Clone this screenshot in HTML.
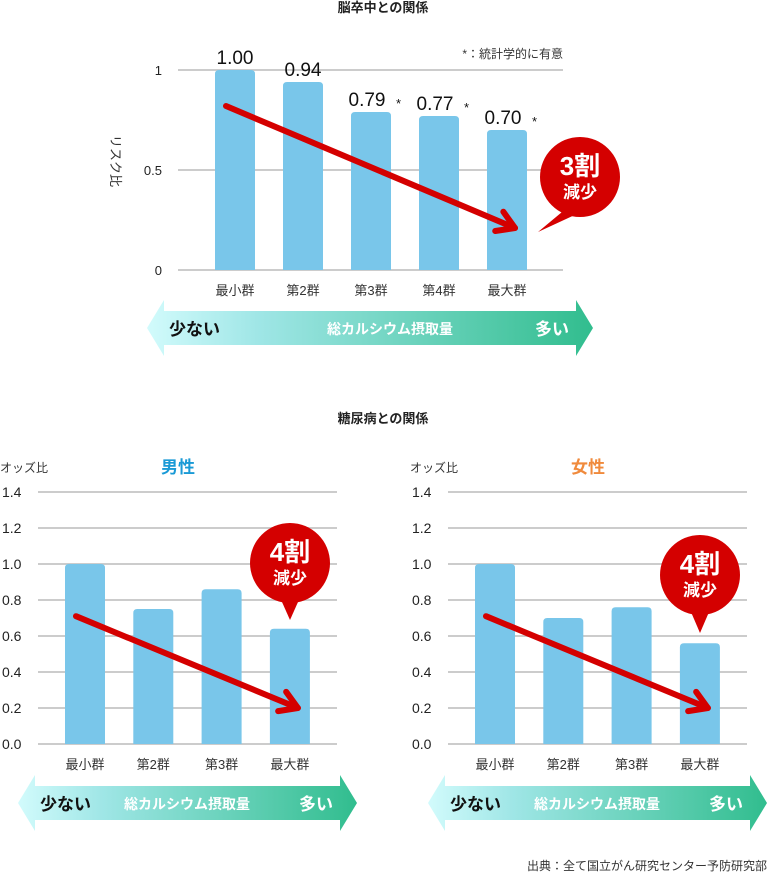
<!DOCTYPE html>
<html><head><meta charset="utf-8"><style>
html,body{margin:0;padding:0;background:#fff;width:767px;height:874px;overflow:hidden}
svg text{font-family:"Liberation Sans","Noto Sans CJK JP",sans-serif}
</style></head><body>
<svg id="s" width="767" height="874" xmlns="http://www.w3.org/2000/svg">
<defs>
<linearGradient id="g" x1="0" x2="1" y1="0" y2="0"><stop offset="0" stop-color="#d2fbfc"/><stop offset="0.25" stop-color="#9fe6e6"/><stop offset="1" stop-color="#31bd8e"/></linearGradient>
</defs>
<text x="383" y="12" text-anchor="middle" font-size="13" font-weight="bold" fill="#222">脳卒中との関係</text>
<text x="563" y="58" text-anchor="end" font-size="12" fill="#333">*：統計学的に有意</text>
<text x="383" y="423" text-anchor="middle" font-size="13" font-weight="bold" fill="#222">糖尿病との関係</text>
<text x="767" y="870" text-anchor="end" font-size="12" fill="#333">出典：全て国立がん研究センター予防研究部</text>
</svg>
<script>
const strokeCats=["最小群","第2群","第3群","第4群","最大群"];
const strokeVals=[1.00,0.94,0.79,0.77,0.70];
const strokeLabels=["1.00","0.94","0.79","0.77","0.70"];
const strokeSig=[false,false,true,true,true];
const strokeTicks=[0,0.5,1];
const strokeTickLabels=["0","0.5","1"];
const dmCats=["最小群","第2群","第3群","最大群"];
const maleVals=[1.0,0.75,0.86,0.64];
const femaleVals=[1.0,0.70,0.76,0.56];
const dmTicks=[0,0.2,0.4,0.6,0.8,1.0,1.2,1.4];
const dmTickLabels=["0.0","0.2","0.4","0.6","0.8","1.0","1.2","1.4"];

const S=document.getElementById('s');
function el(t,a,txt){const e=document.createElementNS('http://www.w3.org/2000/svg',t);for(const k in a)e.setAttribute(k,a[k]);if(txt!=null)e.textContent=txt;S.appendChild(e);return e;}

function gradArrow(x0,x1,y,tag){
  const h=28,w=17,b=17;
  const g=el('polygon',{points:`${x0},${y} ${x0+w},${y-h} ${x0+w},${y-b} ${x1-w},${y-b} ${x1-w},${y-h} ${x1},${y} ${x1-w},${y+h} ${x1-w},${y+b} ${x0+w},${y+b} ${x0+w},${y+h}`,fill:'url(#g)'});
  
  
}
function bubble(cx,cy,r,tx,ty,big,tag){
  const p=el('polygon',{points:`${cx-12},${cy+r-10} ${cx+12},${cy+r-10} ${tx},${ty}`,fill:'#d40000'});
  
  
  const c=el('circle',{cx:cx,cy:cy,r:r,fill:'#d40000'});
  
  
  const t1=el('text',{x:cx,y:cy-2,'text-anchor':'middle','font-size':26,'font-weight':'bold',fill:'#fff'},big);
  
  
  const t2=el('text',{x:cx,y:cy+21,'text-anchor':'middle','font-size':17,'font-weight':'bold',fill:'#fff'},'減少');
  
  
}
function redArrow(x1,y1,x2,y2,tag){
  const ang=Math.atan2(y2-y1,x2-x1);
  const l=el('line',{x1:x1,y1:y1,x2:x2,y2:y2,stroke:'#d40000','stroke-width':6,'stroke-linecap':'round'});
  
  
  const L=20;
  const pts=[[x2-L*Math.cos(ang-0.55),y2-L*Math.sin(ang-0.55)],[x2,y2],[x2-L*Math.cos(ang+0.55),y2-L*Math.sin(ang+0.55)]];
  const h=el('polyline',{points:pts.map(p=>p.join(',')).join(' '),fill:'none',stroke:'#d40000','stroke-width':6,'stroke-linecap':'round','stroke-linejoin':'round'});
  
  
}
function chart(o){
  const y=v=>o.y0-(v/o.vmax)*(o.y0-o.y1);
  o.ticks.forEach((t,i)=>{
    const g=el('line',{x1:o.gx0,x2:o.gx1,y1:y(t),y2:y(t),stroke:'#ccc','stroke-width':2});
    
    
    const tl=el('text',{x:o.tickX,y:y(t)+5,'text-anchor':o.tickAnchor,'font-size':o.tickSize,fill:'#222'},o.tickLabels[i]);
    
    
  });
  const x=i=>o.cx0+i*o.step;
  o.vals.forEach((v,i)=>{
    const top=y(v),bw=40;
    const b=el('path',{d:`M${x(i)-bw/2},${o.y0} V${top+4} Q${x(i)-bw/2},${top} ${x(i)-bw/2+4},${top} H${x(i)+bw/2-4} Q${x(i)+bw/2},${top} ${x(i)+bw/2},${top+4} V${o.y0} Z`,fill:'#79c6ea'});
    
    
    const c=el('text',{x:x(i),y:o.y0+25,'text-anchor':'middle','font-size':13,fill:'#333'},o.cats[i]);
    
    
    if(o.labels){
      const lt=el('text',{x:x(i)-(o.sig[i]?4:0),y:top-6,'text-anchor':'middle','font-size':19,fill:'#111'},o.labels[i]);
      
      
      if(o.sig[i]){
        const st=el('text',{x:x(i)+25,y:top-4,'font-size':13,fill:'#111'},'*');
        
        
      }
    }
  });
  const n=o.vals.length-1;
  redArrow(x(0)-9,y(o.vals[0]*o.aStart),x(n)+8,y(o.vals[n]*o.aEnd),o.tag);
  return {x,y};
}
function arrowLabels(x0,x1,yc,tag,mid){
  gradArrow(x0,x1,yc,tag);
  const a=el('text',{x:x0+22,y:yc+7,'font-size':17,'font-weight':'bold',fill:'#111'},'少ない');
  
  
  const b=el('text',{x:mid,y:yc+6,'text-anchor':'middle','font-size':14,'font-weight':'bold',fill:'#fff'},'総カルシウム摂取量');
  
  
  const c=el('text',{x:x1-24,y:yc+7,'text-anchor':'end','font-size':17,'font-weight':'bold',fill:'#fff'},'多い');
  
  
}
/* stroke chart */
chart({tag:'stroke',y0:270,y1:70,vmax:1,ticks:strokeTicks,tickLabels:strokeTickLabels,gx0:178,gx1:563,tickX:162,tickAnchor:'end',tickSize:13,cx0:235,step:68,vals:strokeVals,cats:strokeCats,labels:strokeLabels,sig:strokeSig,aStart:0.82,aEnd:0.3});
const yt=el('text',{x:0,y:0,'font-size':13,fill:'#333',transform:'translate(111,135) rotate(90)'},'リスク比');


bubble(580,177,40,538,232,'3割','stroke');
arrowLabels(147,593,328,'stroke',390);
/* male / female */
[[0,maleVals,'male','男性','#1a9ad6',563,620],[410,femaleVals,'female','女性','#f08a3c',575,633]].forEach(([dx,vals,tag,title,col,by,bt])=>{
  chart({tag:tag,y0:744,y1:492,vmax:1.4,ticks:dmTicks,tickLabels:dmTickLabels,gx0:38+dx,gx1:337+dx,tickX:2+dx,tickAnchor:'start',tickSize:14,cx0:85+dx,step:68.3,vals:vals,cats:dmCats,aStart:0.71,aEnd:0.2/vals[3]});
  const t=el('text',{x:178+dx,y:473,'text-anchor':'middle','font-size':17,'font-weight':'bold',fill:col},title);
  
  
  const o=el('text',{x:dx,y:472,'font-size':12,fill:'#333'},'オッズ比');
  
  
  bubble(290+dx,by,40,290+dx,bt,'4割',tag);
  arrowLabels(18+dx,357+dx,803,tag,187+dx);
});
</script>
</body></html>
